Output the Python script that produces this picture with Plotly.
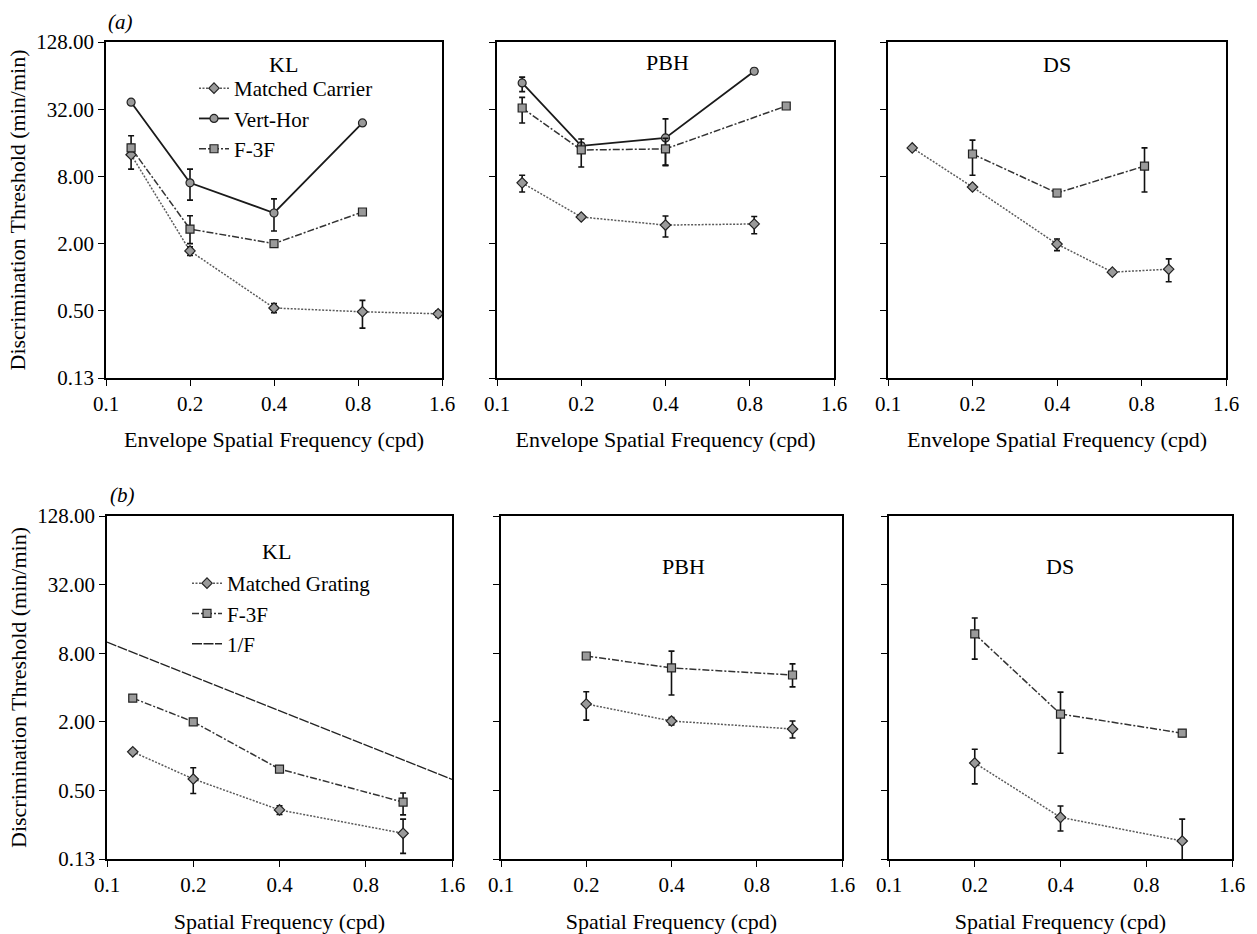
import plotly.graph_objects as go
from plotly.subplots import make_subplots
import math

W, H = 1257, 934
FONT = "Liberation Serif"

# ---------------- data: row (a) ----------------
a_kl_mc_x = [0.123, 0.2, 0.4, 0.83, 1.55]
a_kl_mc_y = [12.5, 1.72, 0.53, 0.49, 0.47]
a_kl_mc_ep = [6.0, 0.15, 0.05, 0.13, 0.03]
a_kl_mc_em = [3.2, 0.15, 0.05, 0.14, 0.03]
a_kl_vh_x = [0.123, 0.2, 0.4, 0.83]
a_kl_vh_y = [37.0, 7.0, 3.76, 24.1]
a_kl_vh_ep = [1.5, 2.3, 1.27, 0.8]
a_kl_vh_em = [1.5, 2.1, 1.17, 0.8]
a_kl_f3_x = [0.123, 0.2, 0.4, 0.83]
a_kl_f3_y = [14.4, 2.7, 2.0, 3.84]
a_kl_f3_ep = [1.0, 0.85, 0.08, 0.15]
a_kl_f3_em = [1.0, 0.7, 0.08, 0.15]

a_pbh_mc_x = [0.123, 0.2, 0.4, 0.83]
a_pbh_mc_y = [7.0, 3.46, 2.93, 3.0]
a_pbh_mc_ep = [1.2, 0.1, 0.6, 0.5]
a_pbh_mc_em = [1.2, 0.1, 0.64, 0.55]
a_pbh_vh_x = [0.123, 0.2, 0.4, 0.83]
a_pbh_vh_y = [55.0, 15.0, 17.7, 70.0]
a_pbh_vh_ep = [7.0, 1.0, 8.5, 4.0]
a_pbh_vh_em = [9.0, 1.0, 7.6, 4.0]
a_pbh_f3_x = [0.123, 0.2, 0.4, 1.08]
a_pbh_f3_y = [32.8, 13.8, 14.1, 34.2]
a_pbh_f3_ep = [8.0, 3.5, 3.5, 1.5]
a_pbh_f3_em = [8.7, 4.1, 4.1, 1.5]

a_ds_mc_x = [0.122, 0.2, 0.4, 0.63, 1.0]
a_ds_mc_y = [14.4, 6.43, 1.98, 1.11, 1.18]
a_ds_mc_ep = [0.5, 0.3, 0.22, 0.05, 0.28]
a_ds_mc_em = [0.5, 0.3, 0.25, 0.05, 0.27]
a_ds_f3_x = [0.2, 0.4, 0.82]
a_ds_f3_y = [12.7, 5.68, 9.9]
a_ds_f3_ep = [4.2, 0.4, 4.5]
a_ds_f3_em = [4.5, 0.4, 4.1]

# ---------------- data: row (b) ----------------
b_kl_mg_x = [0.123, 0.2, 0.4, 1.08]
b_kl_mg_y = [1.09, 0.63, 0.337, 0.21]
b_kl_mg_ep = [0.05, 0.16, 0.03, 0.07]
b_kl_mg_em = [0.05, 0.16, 0.03, 0.07]
b_kl_f3_x = [0.123, 0.2, 0.4, 1.08]
b_kl_f3_y = [3.23, 2.0, 0.77, 0.395]
b_kl_f3_ep = [0.1, 0.08, 0.04, 0.08]
b_kl_f3_em = [0.1, 0.08, 0.04, 0.09]
b_kl_inv_x = [0.1, 1.6]
b_kl_inv_y = [10.0, 0.625]

b_pbh_mg_x = [0.2, 0.4, 1.07]
b_pbh_mg_y = [2.87, 2.03, 1.73]
b_pbh_mg_ep = [0.8, 0.15, 0.3]
b_pbh_mg_em = [0.8, 0.15, 0.29]
b_pbh_f3_x = [0.2, 0.4, 1.07]
b_pbh_f3_y = [7.56, 5.94, 5.15]
b_pbh_f3_ep = [0.4, 2.4, 1.3]
b_pbh_f3_em = [0.4, 2.5, 1.1]

b_ds_mg_x = [0.2, 0.4, 1.07]
b_ds_mg_y = [0.87, 0.29, 0.18]
b_ds_mg_ep = [0.28, 0.075, 0.1]
b_ds_mg_em = [0.3, 0.07, 0.06]
b_ds_f3_x = [0.2, 0.4, 1.07]
b_ds_f3_y = [11.8, 2.34, 1.59]
b_ds_f3_ep = [4.5, 1.3, 0.1]
b_ds_f3_em = [4.7, 1.28, 0.1]

x_tickvals = [0.1, 0.2, 0.4, 0.8, 1.6]
x_ticktext = ["0.1", "0.2", "0.4", "0.8", "1.6"]
y_tickvals = [0.125, 0.5, 2, 8, 32, 128]
y_ticktext = ["0.13", "0.50", "2.00", "8.00", "32.00", "128.00"]
panel_names = ["KL", "PBH", "DS"]

# ---------------- styles ----------------
ST = {
    "mc": dict(line=dict(color="#5a5a5a", width=1.5, dash="2px,1.5px"), symbol="diamond"),
    "vh": dict(line=dict(color="#1a1a1a", width=1.8), symbol="circle"),
    "f3": dict(line=dict(color="#333333", width=1.5, dash="7px,2px,2px,2px"), symbol="square"),
    "inv": dict(line=dict(color="#222222", width=1.3, dash="10px,1.5px"), symbol=None),
}

fig = make_subplots(rows=2, cols=3)


def add(row, col, x, y, ep, em, key, name, legend=None, show=False):
    st = ST[key]
    kw = {}
    if st["symbol"]:
        kw["marker"] = dict(symbol=st["symbol"], size=8, color="#9a9a9a",
                            line=dict(color="#222222", width=1.2))
        mode = "lines+markers"
    else:
        mode = "lines"
    if ep is not None:
        kw["error_y"] = dict(type="data", symmetric=False, array=ep, arrayminus=em,
                             color="#111111", thickness=1.6, width=3)
    tr = go.Scatter(x=x, y=y, mode=mode, name=name, line=st["line"],
                    showlegend=show, **kw)
    if legend:
        tr.legend = legend
    fig.add_trace(tr, row=row, col=col)


# row a
add(1, 1, a_kl_mc_x, a_kl_mc_y, a_kl_mc_ep, a_kl_mc_em, "mc", "Matched Carrier", "legend", True)
add(1, 1, a_kl_vh_x, a_kl_vh_y, a_kl_vh_ep, a_kl_vh_em, "vh", "Vert-Hor", "legend", True)
add(1, 1, a_kl_f3_x, a_kl_f3_y, a_kl_f3_ep, a_kl_f3_em, "f3", "F-3F", "legend", True)
add(1, 2, a_pbh_mc_x, a_pbh_mc_y, a_pbh_mc_ep, a_pbh_mc_em, "mc", "Matched Carrier")
add(1, 2, a_pbh_vh_x, a_pbh_vh_y, a_pbh_vh_ep, a_pbh_vh_em, "vh", "Vert-Hor")
add(1, 2, a_pbh_f3_x, a_pbh_f3_y, a_pbh_f3_ep, a_pbh_f3_em, "f3", "F-3F")
add(1, 3, a_ds_mc_x, a_ds_mc_y, a_ds_mc_ep, a_ds_mc_em, "mc", "Matched Carrier")
add(1, 3, a_ds_f3_x, a_ds_f3_y, a_ds_f3_ep, a_ds_f3_em, "f3", "F-3F")
# row b
add(2, 1, b_kl_mg_x, b_kl_mg_y, b_kl_mg_ep, b_kl_mg_em, "mc", "Matched Grating", "legend2", True)
add(2, 1, b_kl_f3_x, b_kl_f3_y, b_kl_f3_ep, b_kl_f3_em, "f3", "F-3F", "legend2", True)
add(2, 1, b_kl_inv_x, b_kl_inv_y, None, None, "inv", "1/F", "legend2", True)
add(2, 2, b_pbh_mg_x, b_pbh_mg_y, b_pbh_mg_ep, b_pbh_mg_em, "mc", "Matched Grating")
add(2, 2, b_pbh_f3_x, b_pbh_f3_y, b_pbh_f3_ep, b_pbh_f3_em, "f3", "F-3F")
add(2, 3, b_ds_mg_x, b_ds_mg_y, b_ds_mg_ep, b_ds_mg_em, "mc", "Matched Grating")
add(2, 3, b_ds_f3_x, b_ds_f3_y, b_ds_f3_ep, b_ds_f3_em, "f3", "F-3F")

# ---------------- geometry (pixels) ----------------
row_y = {1: (42, 378), 2: (516, 859)}
col_x = {1: [(106, 442), (497, 834), (888, 1226)],
         2: [(107, 452), (501, 842), (889, 1232)]}
xtitles = {1: "Envelope Spatial Frequency (cpd)", 2: "Spatial Frequency (cpd)"}
xstandoff = {1: 17, 2: 20}

axis_common = dict(showline=True, linecolor="black", linewidth=1.6, mirror=True,
                   ticks="outside", ticklen=6, tickwidth=1.4, tickcolor="black",
                   showgrid=False, zeroline=False, automargin=False,
                   tickfont=dict(family=FONT, size=21, color="black"))

for r in (1, 2):
    y0, y1 = row_y[r]
    for c in (1, 2, 3):
        x0, x1 = col_x[r][c - 1]
        fig.update_xaxes(row=r, col=c, type="log", range=[math.log10(0.1), math.log10(1.6)],
                         domain=[x0 / W, x1 / W], tickvals=x_tickvals, ticktext=x_ticktext,
                         title=dict(text=xtitles[r], font=dict(family=FONT, size=22, color="black"),
                                    standoff=xstandoff[r]),
                         **axis_common)
        fig.update_yaxes(row=r, col=c, type="log", range=[math.log10(0.125), math.log10(128)],
                         domain=[1 - y1 / H, 1 - y0 / H], tickvals=y_tickvals, ticktext=y_ticktext,
                         showticklabels=(c == 1),
                         title=dict(text="Discrimination Threshold (min/min)" if c == 1 else "",
                                    font=dict(family=FONT, size=22, color="black"), standoff=5),
                         **axis_common)

# ---------------- annotations ----------------
ann = []
title_pos = {1: [(283, 65), (667, 63), (1057, 65)], 2: [(276, 551), (683, 566), (1060, 566)]}
for r in (1, 2):
    for c in range(3):
        px, py = title_pos[r][c]
        ann.append(dict(x=px / W, y=1 - py / H, xref="paper", yref="paper", text=panel_names[c],
                        showarrow=False, font=dict(family=FONT, size=22, color="black"),
                        xanchor="center", yanchor="middle"))
ann.append(dict(x=120 / W, y=1 - 22 / H, xref="paper", yref="paper", text="<i>(a)</i>",
                showarrow=False, font=dict(family=FONT, size=21, color="black"),
                xanchor="center", yanchor="middle"))
ann.append(dict(x=122 / W, y=1 - 495 / H, xref="paper", yref="paper", text="<i>(b)</i>",
                showarrow=False, font=dict(family=FONT, size=21, color="black"),
                xanchor="center", yanchor="middle"))

legend_style = dict(font=dict(family=FONT, size=21, color="black"), bgcolor="rgba(0,0,0,0)",
                    borderwidth=0, xanchor="left", yanchor="top", itemwidth=30,
                    tracegroupgap=0)

fig.update_layout(
    width=W, height=H, margin=dict(l=0, r=0, t=0, b=0),
    paper_bgcolor="white", plot_bgcolor="white",
    font=dict(family=FONT, color="black"),
    annotations=ann,
    legend=dict(x=194 / W, y=1 - 68 / H, **legend_style),
    legend2=dict(x=187 / W, y=1 - 563 / H, **legend_style),
)

fig.write_html("out.html", config={"displayModeBar": False},
               post_script="document.body.style.margin='0';document.body.style.padding='0';")
